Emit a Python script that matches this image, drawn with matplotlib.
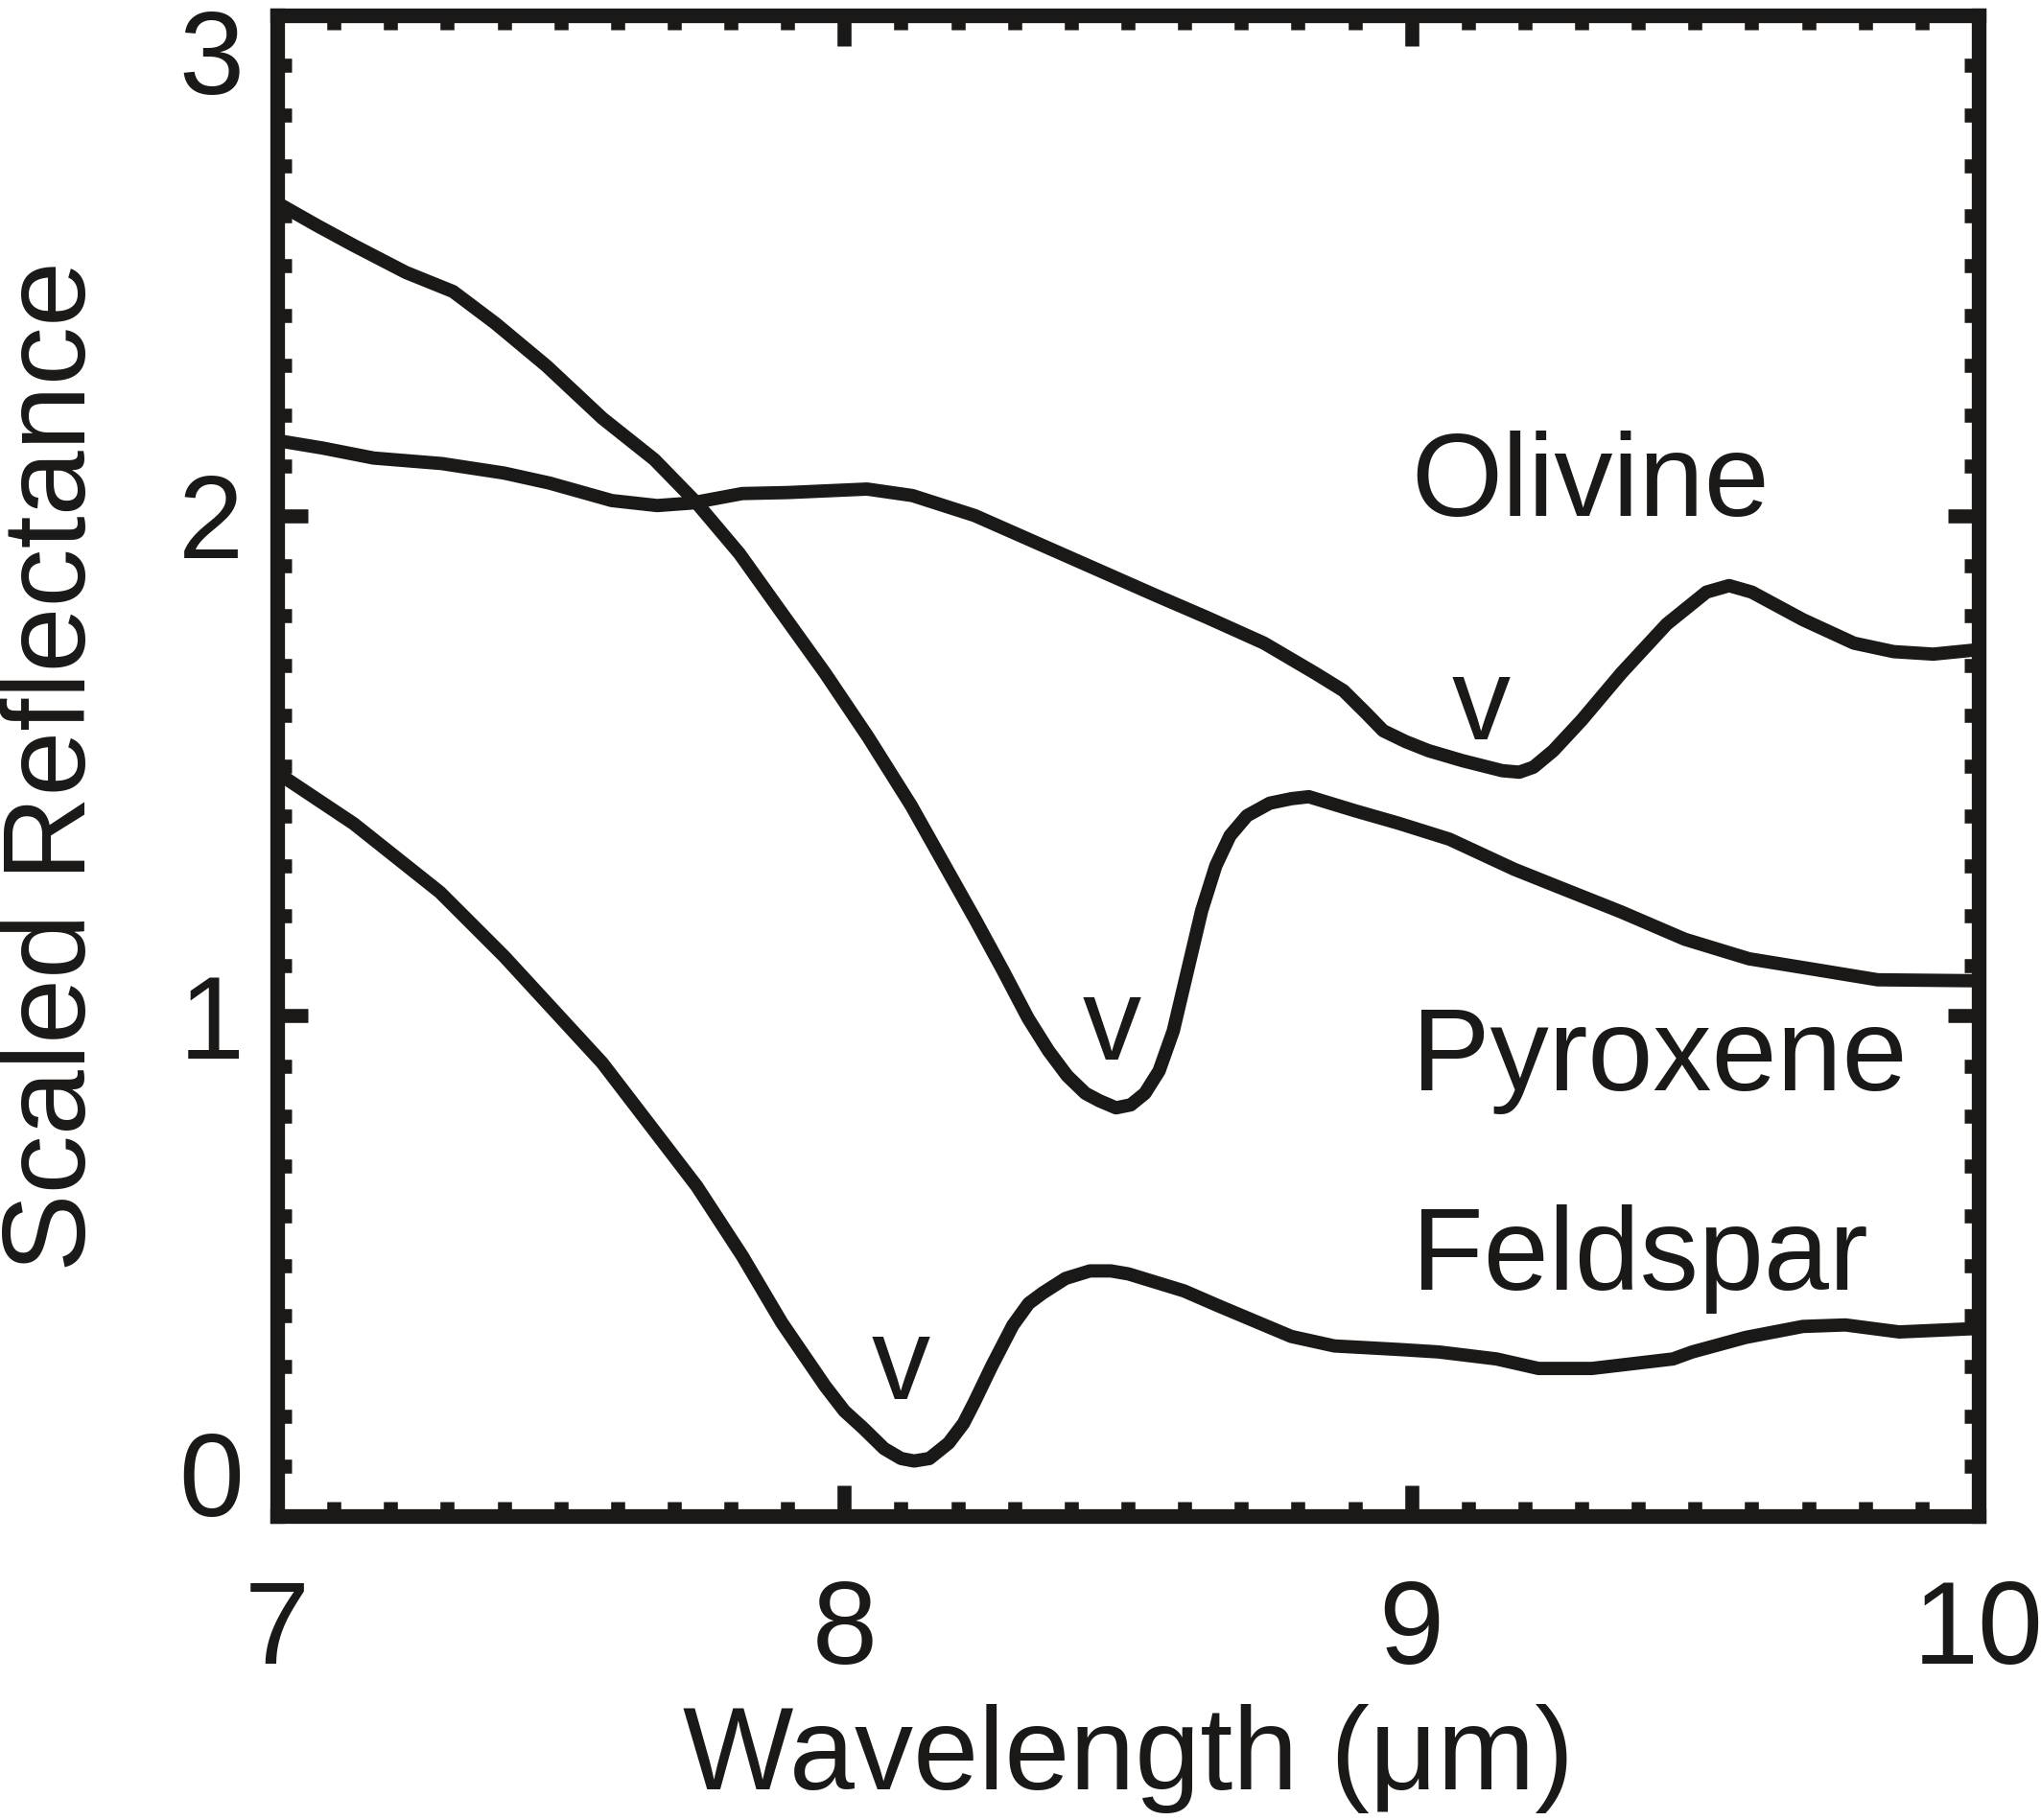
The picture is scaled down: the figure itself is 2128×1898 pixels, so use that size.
import matplotlib
matplotlib.use("Agg")
import matplotlib.pyplot as plt
from matplotlib.ticker import MultipleLocator
from matplotlib.transforms import ScaledTranslation

plt.rcParams['font.family'] = ['Liberation Sans', 'DejaVu Sans']

# ---- data ----
olivine_x = [7.00, 7.08, 7.17, 7.29, 7.40, 7.48, 7.59, 7.67, 7.73, 7.82, 7.90, 8.04,
             8.12, 8.23, 8.34, 8.45, 8.55, 8.64, 8.74, 8.83, 8.88, 8.92, 8.95, 8.99, 9.03,
             9.09, 9.16, 9.19, 9.215, 9.25, 9.30, 9.37, 9.45, 9.52, 9.56, 9.60, 9.69, 9.78,
             9.85, 9.92, 10.0]
olivine_y = [2.150, 2.135, 2.115, 2.104, 2.085, 2.065, 2.030, 2.020, 2.025, 2.044, 2.046, 2.053,
             2.040, 2.000, 1.945, 1.890, 1.840, 1.796, 1.745, 1.685, 1.650, 1.605, 1.570, 1.548, 1.530,
             1.510, 1.490, 1.487, 1.497, 1.530, 1.591, 1.685, 1.783, 1.847, 1.860, 1.847, 1.792, 1.745,
             1.728, 1.723, 1.732]

pyroxene_x = [7.00, 7.07, 7.135, 7.227, 7.31, 7.385, 7.475, 7.573, 7.665, 7.739, 7.815,
              7.89, 7.966, 8.042, 8.118, 8.175, 8.232, 8.28, 8.324, 8.36, 8.393, 8.425,
              8.45, 8.479, 8.505, 8.53, 8.555, 8.58, 8.605, 8.63, 8.655, 8.68, 8.71,
              8.75, 8.788, 8.819, 8.90, 8.977, 9.067, 9.181, 9.256, 9.369, 9.482, 9.595,
              9.709, 9.822, 10.0]
pyroxene_y = [2.625, 2.58, 2.54, 2.486, 2.448, 2.384, 2.299, 2.195, 2.112, 2.026, 1.924,
              1.805, 1.685, 1.557, 1.42, 1.305, 1.19, 1.09, 0.995, 0.93, 0.88, 0.845,
              0.83, 0.816, 0.822, 0.845, 0.89, 0.97, 1.09, 1.21, 1.30, 1.36, 1.40,
              1.425, 1.434, 1.438, 1.41, 1.385, 1.353, 1.293, 1.259, 1.208, 1.153, 1.114,
              1.093, 1.072, 1.070]

feldspar_x = [7.00, 7.135, 7.287, 7.40, 7.573, 7.74, 7.82, 7.89, 7.966, 8.00, 8.033, 8.07,
              8.10, 8.123, 8.15, 8.184, 8.21, 8.229, 8.26, 8.297, 8.325, 8.35, 8.39, 8.433,
              8.47, 8.501, 8.599, 8.66, 8.788, 8.864, 8.977, 9.048, 9.15, 9.224, 9.318,
              9.461, 9.495, 9.589, 9.69, 9.765, 9.86, 10.0]
feldspar_y = [1.486, 1.384, 1.247, 1.119, 0.906, 0.659, 0.52, 0.386, 0.26, 0.21, 0.176, 0.135,
              0.115, 0.11, 0.115, 0.146, 0.185, 0.227, 0.30, 0.381, 0.425, 0.446, 0.475, 0.49,
              0.49, 0.484, 0.45, 0.42, 0.359, 0.34, 0.333, 0.328, 0.314, 0.295, 0.295,
              0.314, 0.328, 0.357, 0.379, 0.382, 0.368, 0.375]

mineral_names = ["Olivine", "Pyroxene", "Feldspar"]
name_x = [9.0, 9.0, 9.0]
name_y = [2.0, 0.852, 0.453]

marker_x = [9.123, 8.471, 8.10]
marker_y = [1.552, 0.912, 0.233]

x_ticks = [7, 8, 9, 10]
x_ticklabels = ["7", "8", "9", "10"]
y_ticks = [0, 1, 2, 3]
y_ticklabels = ["0", "1", "2", "3"]

# ---- figure ----
ink = '#1a1918'
W, H = 2128, 1898
fig = plt.figure(figsize=(W / 100, H / 100), dpi=100)
ax = fig.add_axes([289 / W, 1 - 1581 / H, (2063 - 289) / W, (1581 - 16) / H])

lw = 10
for xs, ys in [(olivine_x, olivine_y), (pyroxene_x, pyroxene_y), (feldspar_x, feldspar_y)]:
    ax.plot(xs, ys, color=ink, lw=lw, solid_joinstyle='round', solid_capstyle='butt')

fs = 88
for name, tx, ty in zip(mineral_names, name_x, name_y):
    ax.text(tx, ty, name, fontsize=fs, ha='left', va='baseline', color=ink)
for mx, my in zip(marker_x, marker_y):
    ax.text(mx, my, "v", fontsize=fs, ha='center', va='baseline', color=ink)

ax.set_xlim(7, 10)
ax.set_ylim(0, 3)

ax.set_xticks(x_ticks)
ax.set_xticklabels(x_ticklabels)
ax.set_yticks(y_ticks)
ax.set_yticklabels(y_ticklabels)
ax.xaxis.set_minor_locator(MultipleLocator(0.1))
ax.yaxis.set_minor_locator(MultipleLocator(0.1))

for s in ax.spines.values():
    s.set_linewidth(11)
    s.set_color(ink)

ax.tick_params(which='both', direction='in', top=True, right=True, color=ink, width=10.5)
ax.tick_params(which='major', length=23, labelsize=fs, labelcolor=ink)
ax.tick_params(axis='x', which='major', pad=47)
ax.tick_params(axis='y', which='major', pad=25)
ax.tick_params(which='minor', length=11)

labs = ax.get_yticklabels()
labs[0].set_va('baseline')
labs[3].set_va('baseline')
labs[3].set_transform(labs[3].get_transform() + ScaledTranslation(0, -0.82, fig.dpi_scale_trans))

ax.set_xlabel("Wavelength (μm)", fontsize=fs, color=ink)
ax.set_ylabel("Scaled Reflectance", fontsize=fs, color=ink)
ax.xaxis.set_label_coords(0.5, -0.125)
ax.yaxis.set_label_coords(-0.0985, 0.5)

fig.savefig("out.png", dpi=100)
